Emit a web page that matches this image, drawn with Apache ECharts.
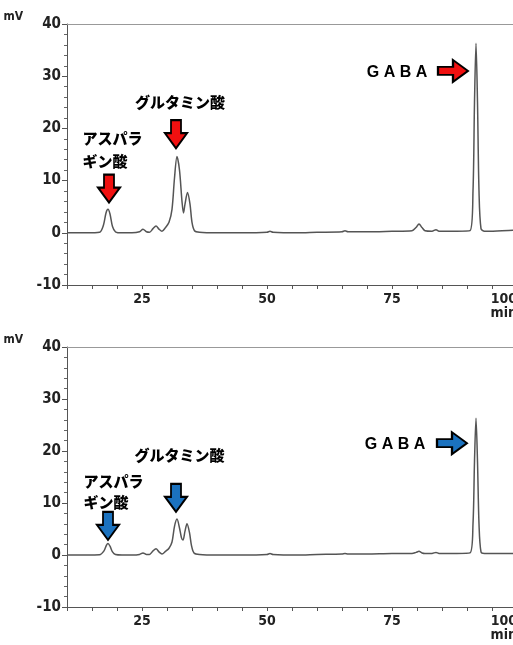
<!DOCTYPE html>
<html><head><meta charset="utf-8">
<script src="https://cdn.jsdelivr.net/npm/echarts@6/dist/echarts.min.js"></script>
<style>html,body{margin:0;padding:0;background:#fff}#c{width:513px;height:645px}</style>
</head><body><div id="c"></div>
<script>
// ---- data ----
const xMin = 10, xMax = 100, xStep = 5;
const xLabelValues = [25, 50, 75, 100];
const yMin = -10, yMax = 40, yStep = 10;
const yUnit = 'mV';
const xUnit = 'min';

// chromatogram 1 (top) [time(min), signal(mV)]
const topTrace = [
  [10,0],[14,0],[16.5,0.1],[17.3,1.5],[17.8,3.8],[18.2,4.5],[18.6,3.6],[19.1,1.2],[19.7,0.2],[21,0],[23,0],
  [24.5,0.2],[25.2,0.7],[25.9,0.2],[26.5,0.1],[27.2,0.8],[27.8,1.3],[28.4,0.7],[29,0.3],[29.7,1.0],[30.4,2.0],
  [31,4.5],[31.5,10.5],[32,14.6],[32.5,12],[33,6],[33.3,3.8],[33.6,5.5],[34.1,7.7],[34.6,5.5],[35,2],[35.5,0.4],
  [36.5,0.1],[40,0],[45,0],[50,0.1],[50.6,0.3],[51.2,0.1],[56,0],[60,0.1],[65,0.2],[65.6,0.4],[66.2,0.2],
  [70,0.2],[75,0.3],[79,0.4],[79.8,1.0],[80.4,1.7],[81,1.0],[81.6,0.4],[83,0.3],[83.8,0.6],[84.4,0.3],
  [88,0.3],[90.6,0.4],[91.2,8],[91.5,25],[91.8,36.3],[92.1,25],[92.4,8],[92.8,0.8],[93.5,0.3],[97,0.4],[100,0.5]
];
// chromatogram 2 (bottom)
const bottomTrace = [
  [10,0],[14,0],[16.5,0.05],[17.4,0.8],[17.9,1.9],[18.2,2.2],[18.6,1.7],[19.1,0.6],[19.7,0.1],[21,0],[23,0],
  [24.5,0.1],[25.2,0.4],[25.9,0.1],[26.5,0.1],[27.2,0.8],[27.8,1.2],[28.4,0.6],[29,0.2],[29.7,0.7],[30.4,1.3],
  [31,2.5],[31.5,5.5],[32,6.9],[32.5,5.2],[32.9,3.3],[33.2,2.9],[33.6,4.6],[34,6.0],[34.5,4.3],[34.9,1.8],[35.4,0.4],
  [36.5,0.1],[40,0],[45,0],[50,0.1],[50.6,0.3],[51.2,0.1],[56,0],[60,0.1],[65,0.2],[65.6,0.3],[66.2,0.2],
  [70,0.2],[75,0.3],[79,0.3],[79.8,0.5],[80.4,0.7],[81,0.4],[81.6,0.3],[83,0.3],[83.8,0.5],[84.4,0.3],
  [88,0.3],[90.6,0.4],[91.2,6],[91.5,18],[91.8,26.3],[92.1,18],[92.4,6],[92.8,0.6],[93.5,0.3],[97,0.3],[100,0.3]
];
// peak annotations
const peakNames = ['アスパラ\nギン酸', 'グルタミン酸', 'G A B A'];

// ---- layout / style ----
const topLabelPos    = [[13, 15.9], [32.6, 25.0], [76.0, 30.6]];
const topArrowPos    = [[18.4, 5.8], [31.8, 16.2], [87.2, 31.0]];
const bottomLabelPos = [[13.2, 12.1], [32.5, 19.2], [75.6, 21.2]];
const bottomArrowPos = [[18.2, 2.9], [31.8, 8.3], [87.0, 21.5]];

const DOWN = 'path://M6,0L16,0L16,13L22,13L11,28L0,13L6,13Z';
const RIGHT = 'path://M0,7L15,7L15,0L30,11L15,22L15,15L0,15Z';
const numFont = "'Liberation Sans Narrow','DejaVu Sans Condensed','Liberation Sans',sans-serif";
const jpFont = "'Noto Sans CJK JP',sans-serif";

function marks(labelPos, arrowPos, color, lineH) {
  const d = [];
  const arrowBase = {itemStyle: {color: color, borderColor: '#000', borderWidth: 2}, label: {show: false}};
  d.push(Object.assign({coord: arrowPos[0], symbol: DOWN, symbolSize: [22, 28], symbolOffset: [0, '-50%']}, arrowBase));
  d.push(Object.assign({coord: arrowPos[1], symbol: DOWN, symbolSize: [22, 28], symbolOffset: [0, '-50%']}, arrowBase));
  d.push(Object.assign({coord: arrowPos[2], symbol: RIGHT, symbolSize: [30, 22], symbolOffset: [0, 0]}, arrowBase));
  const txt = (i, pos, extra) => ({
    coord: labelPos[i], symbol: 'circle', symbolSize: 1,
    itemStyle: {color: 'rgba(0,0,0,0)'},
    label: Object.assign({show: true, formatter: peakNames[i], color: '#000', fontWeight: 'bold'}, extra, {position: pos})
  });
  d.push(txt(0, 'right', {fontFamily: jpFont, fontWeight: 900, fontSize: 15, lineHeight: lineH, align: 'left', distance: 0}));
  d.push(txt(1, 'inside', {fontFamily: jpFont, fontWeight: 900, fontSize: 15}));
  d.push(txt(2, 'inside', {fontFamily: "'Liberation Sans',Arial,sans-serif", fontSize: 16}));
  return {data: d, animation: false};
}

function xAxisBottom(gi) {
  return {
    type: 'value', gridIndex: gi, min: xMin, max: xMax, interval: xStep, position: 'bottom',
    axisLine: {show: true, onZero: false, lineStyle: {color: '#555', width: 1}},
    axisTick: {show: true, length: 4, lineStyle: {color: '#555'}},
    splitLine: {show: false},
    axisLabel: {
      show: true, interval: 0, margin: 7, color: '#222', fontFamily: numFont, fontWeight: 'bold', fontSize: 14,
      lineHeight: 14, alignMaxLabel: 'right',
      formatter: v => xLabelValues.indexOf(v) < 0 ? '' : (v === xMax ? v + '\n' + xUnit : String(v))
    }
  };
}
function xAxisTop(gi) {
  return {
    type: 'value', gridIndex: gi, min: xMin, max: xMax, position: 'top',
    axisLine: {show: true, onZero: false, lineStyle: {color: '#999', width: 1}},
    axisTick: {show: false}, axisLabel: {show: false}, splitLine: {show: false}
  };
}
function yAxis(gi) {
  return {
    type: 'value', gridIndex: gi, min: yMin, max: yMax, interval: yStep,
    name: yUnit, nameLocation: 'end', nameGap: 1,
    nameTextStyle: {align: 'right', verticalAlign: 'bottom', padding: [0, 44, 0, 0], fontFamily: numFont, fontWeight: 'bold', fontSize: 12, color: '#222'},
    axisLine: {show: true, onZero: false, lineStyle: {color: '#555', width: 1}},
    axisTick: {show: true, length: 5, lineStyle: {color: '#555'}},
    minorTick: {show: true, splitNumber: 5, length: 3, lineStyle: {color: '#666'}},
    splitLine: {show: false},
    axisLabel: {margin: 6, color: '#222', fontFamily: numFont, fontWeight: 'bold', fontSize: 15}
  };
}
function trace(data, xi, yi, mk) {
  return {
    type: 'line', data: data, xAxisIndex: xi, yAxisIndex: yi, showSymbol: false, smooth: 0.3,
    lineStyle: {color: '#555', width: 1.5}, markPoint: mk, animation: false, z: 2
  };
}

const chart = echarts.init(document.getElementById('c'), null, {renderer: 'canvas'});
chart.setOption({
  backgroundColor: '#fff',
  animation: false,
  grid: [
    {left: 67, top: 24, width: 450, height: 261, outerBoundsMode: 'none'},
    {left: 67, top: 347, width: 450, height: 260, outerBoundsMode: 'none'}
  ],
  xAxis: [xAxisBottom(0), xAxisTop(0), xAxisBottom(1), xAxisTop(1)],
  yAxis: [yAxis(0), yAxis(1)],
  series: [
    trace(topTrace, 0, 0, marks(topLabelPos, topArrowPos, '#f01010', 23)),
    trace(bottomTrace, 2, 1, marks(bottomLabelPos, bottomArrowPos, '#1b72bf', 21))
  ]
});
</script></body></html>
